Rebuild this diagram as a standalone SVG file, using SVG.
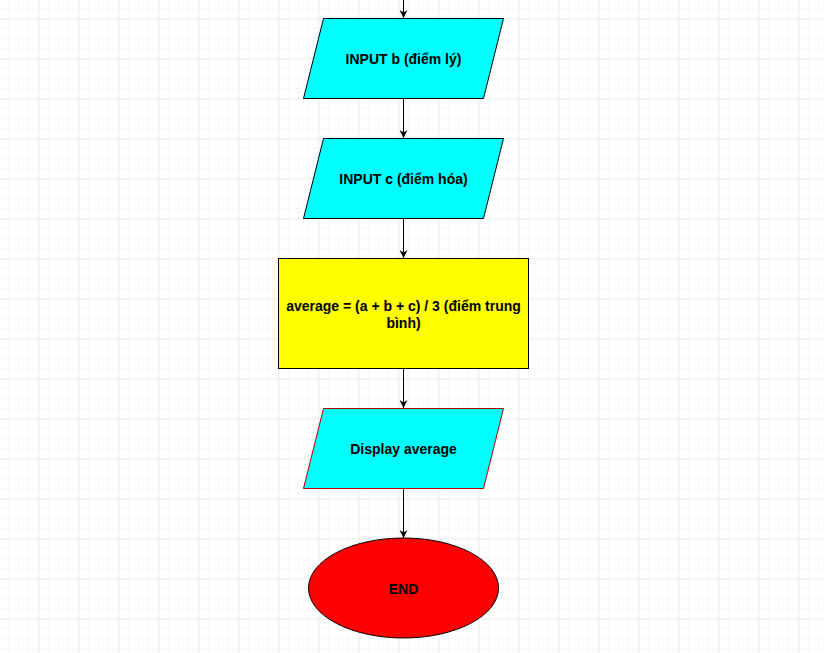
<svg xmlns="http://www.w3.org/2000/svg" width="824" height="653" viewBox="0 0 824 653">
<defs>
<pattern id="minor" x="8" y="8" width="10" height="10" patternUnits="userSpaceOnUse">
<path d="M0 0H10M0 0V10" fill="none" stroke="#f2f2f2" stroke-width="1"/>
</pattern>
<pattern id="major" x="38.5" y="18.5" width="40" height="40" patternUnits="userSpaceOnUse">
<path d="M0 0H40M0 0V40" fill="none" stroke="#dcdcdc" stroke-width="1"/>
</pattern>
<marker id="arr" viewBox="0 0 10 10" refX="10" refY="5" markerWidth="8" markerHeight="8" markerUnits="userSpaceOnUse" orient="auto">
<path d="M0 0L10 5L0 10L3 5Z" fill="#000"/>
</marker>
</defs>
<style>
.t{font-family:"Liberation Sans",Arial,sans-serif;font-size:14px;font-weight:bold;fill:#000;text-anchor:middle;dominant-baseline:central}
.io{fill:#00FFFF;stroke:#000;stroke-width:1}
.edge{stroke:#000;stroke-width:1;fill:none;marker-end:url(#arr)}
</style>
<rect width="824" height="653" fill="#fff"/>
<rect width="824" height="653" fill="url(#minor)"/>
<rect width="824" height="653" fill="url(#major)"/>
<g id="connectors">
<line class="edge" x1="403.5" y1="0" x2="403.5" y2="18"/>
<line class="edge" x1="403.5" y1="98" x2="403.5" y2="138"/>
<line class="edge" x1="403.5" y1="218" x2="403.5" y2="258"/>
<line class="edge" x1="403.5" y1="368" x2="403.5" y2="408"/>
<line class="edge" x1="403.5" y1="488" x2="403.5" y2="538"/>
</g>
<g id="inputB">
<polygon class="io" points="323.5,18.5 503.5,18.5 483.5,98.5 303.5,98.5"/>
<text class="t" x="403.5" y="58.5">INPUT b (điểm lý)</text>
</g>
<g id="inputC">
<polygon class="io" points="323.5,138.5 503.5,138.5 483.5,218.5 303.5,218.5"/>
<text class="t" x="403.5" y="178.5">INPUT c (điểm hóa)</text>
</g>
<g id="average">
<rect x="278.5" y="258.5" width="250" height="110" fill="#FFFF00" stroke="#000"/>
<text class="t" x="403.5" y="305.5">average = (a + b + c) / 3 (điểm trung</text>
<text class="t" x="403.5" y="322.5">bình)</text>
</g>
<g id="display">
<polygon points="323.5,408.5 503.5,408.5 483.5,488.5 303.5,488.5" fill="#00FFFF" stroke="#B20000"/>
<text class="t" x="403.5" y="448.5">Display average</text>
</g>
<g id="end">
<ellipse cx="403.5" cy="588" rx="95" ry="50" fill="#FF0000" stroke="#000"/>
<text class="t" x="403.5" y="588.5">END</text>
</g>
</svg>
